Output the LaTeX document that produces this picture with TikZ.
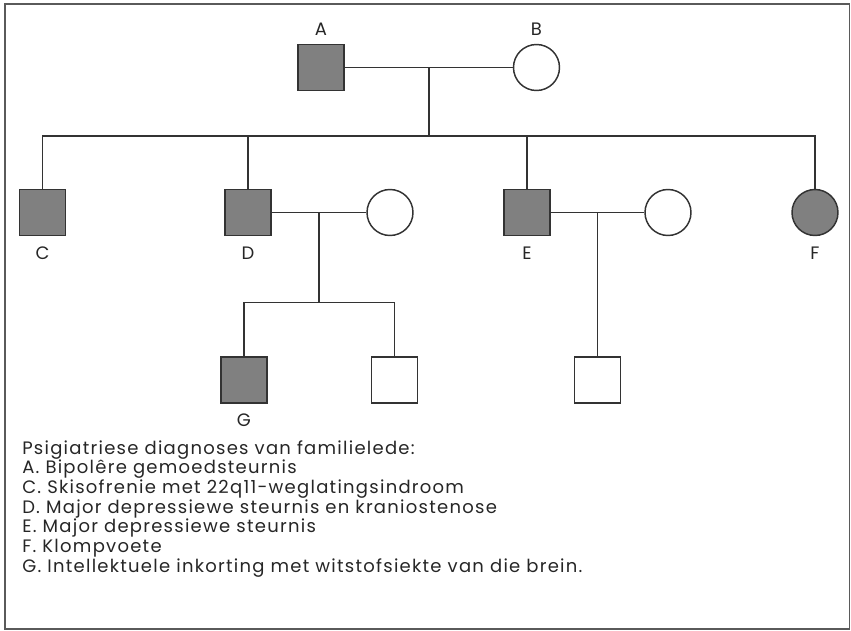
\documentclass[tikz,border=0pt]{standalone}
\usepackage{fontspec}
\setmainfont{Poppins}[LetterSpace=7]
\usepackage{tikz}
\definecolor{pedline}{HTML}{333333}
\definecolor{pedfill}{HTML}{808080}
\definecolor{frameline}{HTML}{5A5A5A}
\newcommand{\pedfont}{\fontsize{13.5}{14.8}\selectfont}
\tikzstyle{male} = [rectangle, minimum size=34.5pt, inner sep=0pt, draw=pedline, line width=1.1pt, fill=white]
\tikzstyle{female} = [circle, minimum size=34.5pt, inner sep=0pt, draw=pedline, line width=1.1pt, fill=white]
\tikzstyle{affected} = [fill=pedfill]
\tikzstyle{tag} = [inner sep=0pt, font=\pedfont, text=black!85]
\tikzstyle{link} = [draw=pedline, line width=1.1pt]

\begin{document}
\begin{tikzpicture}[x=0.75pt, y=-0.75pt]
        \useasboundingbox (0,0) rectangle (851,631);
        \draw [frameline, line width=1.3pt] (5,4) rectangle (849.5,629);

        % generation I
        \node (A) [male, affected] at (321,67.5) {};
        \node (B) [female] at (536.5,67.5) {};
        \node (labA) [tag] at (321,29) {A};
        \node (labB) [tag] at (536.5,29) {B};

        % generation II
        \node (C) [male, affected] at (42.5,212.5) {};
        \node (D) [male, affected] at (248,212.5) {};
        \node (Dw) [female] at (390,212.5) {};
        \node (E) [male, affected] at (527,212.5) {};
        \node (Ew) [female] at (668,212.5) {};
        \node (F) [female, affected] at (815,212.5) {};
        \node (labC) [tag] at (42.5,253) {C};
        \node (labD) [tag] at (248,253) {D};
        \node (labE) [tag] at (527,253) {E};
        \node (labF) [tag] at (815,253) {F};

        % generation III
        \node (G) [male, affected] at (244,380) {};
        \node (Dson) [male] at (394.5,380) {};
        \node (Eson) [male] at (597.5,380) {};
        \node (labG) [tag] at (244,420) {G};

        \coordinate (mateAB) at (429,67.5);
        \coordinate (sibAB) at (429,136);
        \coordinate (mateD) at (319,212.5);
        \coordinate (sibD) at (319,302.5);
        \coordinate (mateE) at (597.5,212.5);

        \draw [link] (A) -- (B);
        \draw [link] (mateAB) -- (sibAB);
        \draw [link] (C) |- (sibAB) -| (F);
        \draw [link] (D) -- (D |- sibAB);
        \draw [link] (E) -- (E |- sibAB);

        \draw [link] (D) -- (Dw);
        \draw [link] (mateD) -- (sibD);
        \draw [link] (G) |- (sibD) -| (Dson);

        \draw [link] (E) -- (Ew);
        \draw [link] (mateE) -- (Eson);

        % legend
        \node (legend) [tag, anchor=north west, align=left] at (22,440) {Psigiatriese diagnoses van familielede:\\
            A. Bipolêre gemoedsteurnis\\
            C. Skisofrenie met 22q11-weglatingsindroom\\
            D. Major depressiewe steurnis en kraniostenose\\
            E. Major depressiewe steurnis\\
            F. Klompvoete\\
            G. Intellektuele inkorting met witstofsiekte van die brein.};
\end{tikzpicture}
\end{document}
